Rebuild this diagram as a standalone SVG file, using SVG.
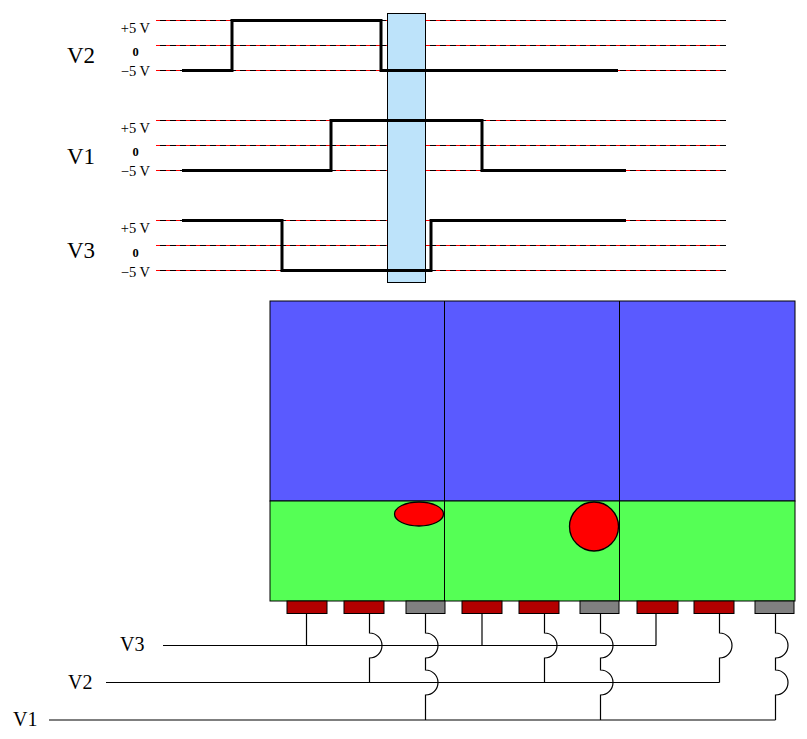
<svg xmlns="http://www.w3.org/2000/svg" width="807" height="739" viewBox="0 0 807 739">
<style>
.grid{stroke:#000;stroke-width:1;fill:none}
.gridr{stroke:#ff0000;stroke-width:1;stroke-dasharray:4 6;fill:none}
.wave{stroke:#000;stroke-width:3;fill:none;stroke-linejoin:miter}
.big{font-family:"Liberation Serif","Times New Roman",serif;font-size:23px;fill:#000}
.big2{font-family:"Liberation Serif","Times New Roman",serif;font-size:20px;fill:#000}
.sm{font-family:"Liberation Serif","Times New Roman",serif;font-size:14.5px;fill:#000}
.zero{font-family:"Liberation Serif","Times New Roman",serif;font-size:12.5px;font-weight:bold;fill:#000}
.cell{stroke:#000;stroke-width:1}
.padr{fill:#b30000;stroke:#000;stroke-width:1}
.padg{fill:#808080;stroke:#000;stroke-width:1}
.wire{stroke:#000;stroke-width:1.2;fill:none}
</style>
<g id="gridlines">
<path class="grid" d="M156 20.5H726M156 45.5H726M156 70.5H726M156 120.5H726M156 145.5H726M156 170.5H726M156 220.5H726M156 245.5H726M156 270.5H726"/>
<path class="gridr" d="M156 20.5H726M156 45.5H726M156 70.5H726M156 120.5H726M156 145.5H726M156 170.5H726M156 220.5H726M156 245.5H726M156 270.5H726"/>
</g>
<g id="highlight">
<rect x="387.5" y="13.5" width="38" height="269" fill="#bde3fa" stroke="#000" stroke-width="1"/>
</g>
<g id="waveV2">
<path class="wave" d="M182 70.5H232V20.5H381V70.5H618"/>
<text class="big" x="67" y="63">V2</text>
<text class="sm" x="150" y="33" text-anchor="end">+5 V</text>
<text class="zero" x="135.5" y="56" text-anchor="middle">0</text>
<text class="sm" x="150" y="76" text-anchor="end">−5 V</text>
</g>
<g id="waveV1">
<path class="wave" d="M182 170.5H331V120.5H482V170.5H626"/>
<text class="big" x="67" y="164">V1</text>
<text class="sm" x="150" y="133" text-anchor="end">+5 V</text>
<text class="zero" x="135.5" y="156" text-anchor="middle">0</text>
<text class="sm" x="150" y="176" text-anchor="end">−5 V</text>
</g>
<g id="waveV3">
<path class="wave" d="M182 220.5H282V270.5H431V220.5H626"/>
<text class="big" x="67" y="258">V3</text>
<text class="sm" x="150" y="233" text-anchor="end">+5 V</text>
<text class="zero" x="135.5" y="257" text-anchor="middle">0</text>
<text class="sm" x="150" y="277" text-anchor="end">−5 V</text>
</g>
<g id="device">
<rect class="cell" x="270" y="301" width="525" height="200" fill="#5a5aff"/>
<rect class="cell" x="270" y="501" width="525" height="100" fill="#55ff55"/>
<path class="cell" d="M444.5 301V601M619.5 301V601"/>
<ellipse cx="419" cy="514" rx="24.5" ry="12" fill="#ff0000" stroke="#000" stroke-width="1.3"/>
<circle cx="594" cy="526.5" r="24.5" fill="#ff0000" stroke="#000" stroke-width="1.3"/>
</g>
<g id="pads">
<rect class="padr" x="287" y="601" width="40" height="12.5"/>
<rect class="padr" x="344" y="601" width="40" height="12.5"/>
<rect class="padg" x="406" y="601" width="39" height="12.5"/>
<rect class="padr" x="462" y="601" width="40" height="12.5"/>
<rect class="padr" x="519" y="601" width="40" height="12.5"/>
<rect class="padg" x="580" y="601" width="39" height="12.5"/>
<rect class="padr" x="637" y="601" width="41" height="12.5"/>
<rect class="padr" x="694" y="601" width="40" height="12.5"/>
<rect class="padg" x="755" y="601" width="39" height="12.5"/>
</g>
<g id="connectors">
<path class="wire" d="M163 645.5H656M106 682.5H719.5M49 720H775.5"/>
<path class="wire" d="M306.5 613.5V645.5"/>
<path class="wire" d="M369.5 613.5V633A12.5 12.5 0 0 1 369.5 658V682.5"/>
<path class="wire" d="M425.5 613.5V633A12.5 12.5 0 0 1 425.5 658V670A12.5 12.5 0 0 1 425.5 695V720"/>
<path class="wire" d="M482 613.5V645.5"/>
<path class="wire" d="M544.5 613.5V633A12.5 12.5 0 0 1 544.5 658V682.5"/>
<path class="wire" d="M600.5 613.5V633A12.5 12.5 0 0 1 600.5 658V670A12.5 12.5 0 0 1 600.5 695V720"/>
<path class="wire" d="M656 613.5V645.5"/>
<path class="wire" d="M719.5 613.5V633A12.5 12.5 0 0 1 719.5 658V682.5"/>
<path class="wire" d="M775.5 613.5V633A12.5 12.5 0 0 1 775.5 658V670A12.5 12.5 0 0 1 775.5 695V720"/>
</g>
<g id="busLabels">
<text class="big2" x="120" y="651">V3</text>
<text class="big2" x="68" y="689">V2</text>
<text class="big2" x="13" y="726">V1</text>
</g>
</svg>
